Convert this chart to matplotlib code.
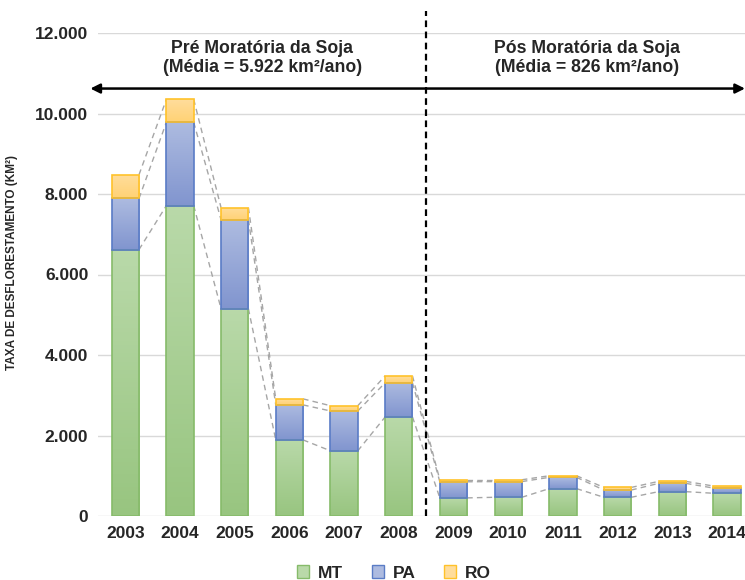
import matplotlib.pyplot as plt
import numpy as np
from matplotlib.colors import LinearSegmentedColormap
from matplotlib.patches import Rectangle

plt.rcParams['font.family'] = ['Liberation Sans', 'DejaVu Sans']
plt.rcParams['font.weight'] = 'bold'

anos = ['2003', '2004', '2005', '2006', '2007', '2008',
        '2009', '2010', '2011', '2012', '2013', '2014']
mt = [6620, 7710, 5150, 1890, 1620, 2460, 450, 465, 680, 465, 605, 565]
pa = [1270, 2070, 2210, 870, 990, 850, 400, 390, 280, 180, 205, 130]
ro = [590, 570, 300, 150, 130, 170, 50, 45, 40, 65, 50, 50]
estados = ['MT', 'PA', 'RO']
media_pre = '5.922'
media_pos = '826'

# (topo, base, borda) de cada estado
cores = {
    'MT': ('#b9d9a9', '#98c580', '#86bb6a'),
    'PA': ('#adbbe0', '#8195cf', '#5a7cc6'),
    'RO': ('#ffdd9c', '#ffd275', '#ffc22a'),
}

fig = plt.figure(figsize=(7.45, 5.8), dpi=100)
ax = fig.add_axes([98 / 745, 1 - 516 / 580, 1 - 98 / 745, (516 - 33) / 580])

x = np.arange(len(anos))
w = 0.5
grad = np.linspace(1, 0, 64).reshape(-1, 1)


def barra(xc, y0, h, est):
    topo, base, borda = cores[est]
    cmap = LinearSegmentedColormap.from_list(est, [base, topo])
    img = ax.imshow(grad, cmap=cmap, aspect='auto', zorder=2,
                    extent=(xc - w / 2, xc + w / 2, y0, y0 + h))
    r = Rectangle((xc - w / 2, y0), w, h, facecolor='none',
                  edgecolor=borda, lw=1.2, zorder=3)
    ax.add_patch(r)
    img.set_clip_path(r)


series = [mt, pa, ro]
base = np.zeros(len(anos))
topos = []
for est, vals in zip(estados, series):
    for i in range(len(anos)):
        barra(x[i], base[i], vals[i], est)
    base = base + np.array(vals)
    topos.append(base.copy())

# linhas de série entre as barras
for t in topos:
    for i in range(len(anos) - 1):
        ax.plot([x[i] + w / 2, x[i + 1] - w / 2], [t[i], t[i + 1]],
                color='#a6a6a6', ls=(0, (4, 3)), lw=1, zorder=1)

ax.set_xlim(-0.5, 11.33)
ax.set_ylim(0, 12000)
ax.set_yticks(range(0, 12001, 2000))
ax.set_yticklabels([f'{v:,}'.replace(',', '.') for v in range(0, 12001, 2000)])
ax.set_xticks(x)
ax.set_xticklabels(anos)
ax.tick_params(length=0, labelsize=12.5, colors='#262626', pad=7)
ax.grid(axis='y', color='#d9d9d9', lw=1)
ax.set_axisbelow(True)
for s in ax.spines.values():
    s.set_visible(False)

ax.set_ylabel('TAXA DE DESFLORESTAMENTO (KM²)', fontsize=8.5, color='#262626',
              fontweight='bold')
ax.yaxis.set_label_coords(-80 / 647, 0.525)

# divisão da moratória
ax.plot([5.5, 5.5], [0, 12540], color='black', ls=(0, (3, 2)), lw=1.6,
        clip_on=False, zorder=4)
ax.annotate('', xy=(11.33, 10620), xytext=(-0.64, 10620),
            arrowprops=dict(arrowstyle='<|-|>', color='black', lw=1.8,
                            mutation_scale=14, shrinkA=0, shrinkB=0),
            annotation_clip=False, zorder=4)

ax.text(2.5, 11380, f'Pré Moratória da Soja\n(Média = {media_pre} km²/ano)',
        ha='center', va='center', fontsize=12.7, color='#262626', linespacing=1.2)
ax.text(8.45, 11380, f'Pós Moratória da Soja\n(Média = {media_pos} km²/ano)',
        ha='center', va='center', fontsize=12.7, color='#262626', linespacing=1.2)

handles = [Rectangle((0, 0), 1, 1, facecolor=cores[e][0], edgecolor=cores[e][2])
           for e in estados]
fig.legend(handles, estados, loc='center', bbox_to_anchor=(394 / 745, 1 - 573 / 580),
           ncol=3, frameon=False, fontsize=12.5, handlelength=0.7, handleheight=0.7,
           handletextpad=0.5, columnspacing=1.65, labelcolor='#262626')

fig.savefig('out.png', dpi=100)
